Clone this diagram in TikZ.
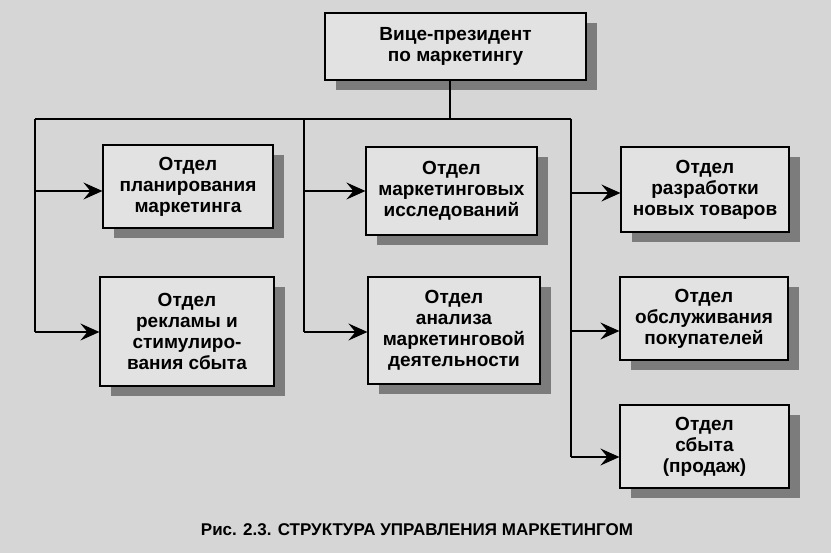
\documentclass[tikz,border=0pt]{standalone}
\usepackage{fontspec}
\setmainfont{Liberation Sans}
\usetikzlibrary{arrows.meta,shadows}
\definecolor{bgcol}{HTML}{D6D6D6}
\definecolor{boxcol}{HTML}{E2E2E2}
\definecolor{shadcol}{HTML}{7C7C7C}
\begin{document}
\begin{tikzpicture}[x=1pt,y=-1pt,
  dept/.style={draw=black, line width=1.2pt, fill=boxcol, align=center,
    font=\fontsize{19}{21}\selectfont\bfseries, inner sep=1pt,
    drop shadow={shadow xshift=11pt, shadow yshift=-10pt, fill=shadcol, opacity=1}},
  conn/.style={line width=1.2pt, black},
  arr/.style={conn, -{Stealth[length=19pt,width=17pt,inset=7pt]}}]
\fill[bgcol] (0,0) rectangle (831,553);
\useasboundingbox (0,0) rectangle (831,553);

\node[dept, minimum width=261pt, minimum height=67pt] (vp) at (455.5,46.5) {Вице-президент\\по маркетингу};
\node[dept, minimum width=170pt, minimum height=83pt] (plan) at (188,186.5) {Отдел\\планирования\\маркетинга};
\node[dept, minimum width=171pt, minimum height=88pt] (issl) at (451.5,191) {Отдел\\маркетинговых\\исследований};
\node[dept, minimum width=168pt, minimum height=85pt] (razr) at (705,189.5) {Отдел\\разработки\\новых товаров};
\node[dept, minimum width=174pt, minimum height=109pt] (rekl) at (187,331.5) {Отдел\\рекламы и\\стимулиро-\\вания сбыта};
\node[dept, minimum width=172pt, minimum height=107pt] (anal) at (454,330.5) {Отдел\\анализа\\маркетинговой\\деятельности};
\node[dept, minimum width=168pt, minimum height=83pt] (obsl) at (704,318.5) {Отдел\\обслуживания\\покупателей};
\node[dept, minimum width=169pt, minimum height=83pt] (sbyt) at (704.5,446.5) {Отдел\\сбыта\\(продаж)};

\coordinate (bj) at (450,119);
\coordinate (bl) at (35,119);
\coordinate (bm) at (304,119);
\coordinate (br) at (571,119);
\coordinate (l1) at (35,191);
\coordinate (l2) at (35,332);
\coordinate (m1) at (304,191);
\coordinate (m2) at (304,332);
\coordinate (r1) at (571,193);
\coordinate (r2) at (571,331);
\coordinate (r3) at (571,457);

\draw[conn] (vp.south -| bj) -- (bj);
\draw[conn] (bl) -- (br);
\draw[conn] (bl) -- (l2);
\draw[conn] (bm) -- (m2);
\draw[conn] (br) -- (r3);
\draw[arr] (l1) -- (l1 -| plan.west);
\draw[arr] (l2) -- (l2 -| rekl.west);
\draw[arr] (m1) -- (m1 -| issl.west);
\draw[arr] (m2) -- (m2 -| anal.west);
\draw[arr] (r1) -- (r1 -| razr.west);
\draw[arr] (r2) -- (r2 -| obsl.west);
\draw[arr] (r3) -- (r3 -| sbyt.west);

\node[font=\fontsize{17}{19}\selectfont\bfseries] (cap) at (417,530) {Рис. 2.3. СТРУКТУРА УПРАВЛЕНИЯ МАРКЕТИНГОМ};
\end{tikzpicture}
\end{document}
